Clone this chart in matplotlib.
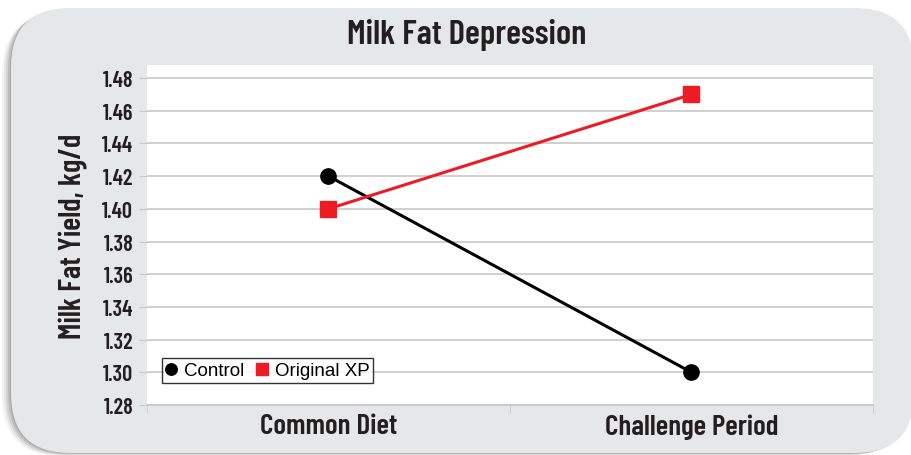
import matplotlib

matplotlib.use("Agg")
import matplotlib.pyplot as plt
from matplotlib.patches import FancyBboxPatch

categories = ["Common Diet", "Challenge Period"]
control = [1.42, 1.30]
original_xp = [1.40, 1.47]
y_ticks = [1.28, 1.30, 1.32, 1.34, 1.36, 1.38, 1.40, 1.42, 1.44, 1.46, 1.48]

COND = ["Barlow Condensed", "DejaVu Sans"]
PLAIN = ["Liberation Sans", "DejaVu Sans"]
CARD = "#e6e7e8"
RED = "#ed1c24"
INK = "#231f20"

fig = plt.figure(figsize=(9.12, 4.56), dpi=100)
fig.patch.set_facecolor("white")

# rounded grey card behind the chart, soft shadow on the left / bottom
W, H = 912, 456
card_x, card_y, card_w, card_h = 11, 2, 903, 445
for off, alpha in [(9, 0.04), (7, 0.06), (5, 0.08), (3, 0.10), (1, 0.12)]:
    fig.patches.append(FancyBboxPatch(
        ((card_x - off) / W, (card_y - off / 3) / H), card_w / W,
        (card_h - off / 3) / H,
        boxstyle="round,pad=0,rounding_size=0.065", transform=fig.transFigure,
        facecolor="black", edgecolor="none", alpha=alpha, zorder=0,
        mutation_aspect=W / H))
fig.patches.append(FancyBboxPatch(
    (card_x / W, card_y / H), card_w / W, card_h / H,
    boxstyle="round,pad=0,rounding_size=0.065", transform=fig.transFigure,
    facecolor=CARD, edgecolor="none", zorder=1, mutation_aspect=W / H))

ax = fig.add_axes([147 / W, (456 - 406) / H, 726 / W, 340 / H])
ax.set_zorder(2)
ax.set_facecolor("white")

x = [0.5, 1.5]
ax.plot(x, control, color="black", lw=2.2, marker="o", ms=11,
        label="Control", zorder=4)
ax.plot(x, original_xp, color=RED, lw=2.2, marker="s", ms=11,
        label="Original XP", zorder=4)

ax.set_xlim(0, 2)
ax.set_ylim(1.28, 1.488)
ax.set_yticks(y_ticks)
ax.set_yticklabels([f"{v:.2f}" for v in y_ticks], family=COND,
                   fontweight="semibold", fontsize=16, color=INK)
ax.yaxis.grid(True, color="#c8c8c8", lw=1.2)
ax.set_axisbelow(True)
ax.tick_params(axis="y", length=6, color="#c8c8c8", pad=4)

ax.set_xticks([0, 1, 2], minor=True)
ax.set_xticks(x)
ax.set_xticklabels(categories, family=COND, fontweight="semibold",
                   fontsize=21, color=INK)
ax.tick_params(axis="x", which="major", length=0, pad=6)
ax.tick_params(axis="x", which="minor", length=6, color="#c8c8c8")

for s in ["top", "right", "left"]:
    ax.spines[s].set_visible(False)
ax.spines["bottom"].set_color("#c8c8c8")
ax.spines["bottom"].set_linewidth(1.2)

ax.set_ylabel("Milk Fat Yield, kg/d", family=COND, fontweight="semibold",
              fontsize=22, color=INK, labelpad=10)

fig.text(467 / W, 1 - 35 / H, "Milk Fat Depression", family=COND,
         fontweight="semibold", fontsize=25, color=INK,
         ha="center", va="center")

leg = ax.legend(loc="lower left", bbox_to_anchor=(15 / 726, 22 / 340),
                ncol=2, frameon=True, fancybox=False,
                prop={"family": PLAIN, "size": 13.5},
                handlelength=0.6, handletextpad=0.4, columnspacing=0.6,
                borderpad=0.2, markerscale=0.75, borderaxespad=0)
leg.get_frame().set_edgecolor("black")
leg.get_frame().set_linewidth(1.0)
for h in leg.legend_handles:
    h.set_linestyle("none")

fig.savefig("out.png", dpi=100, facecolor=fig.get_facecolor())
